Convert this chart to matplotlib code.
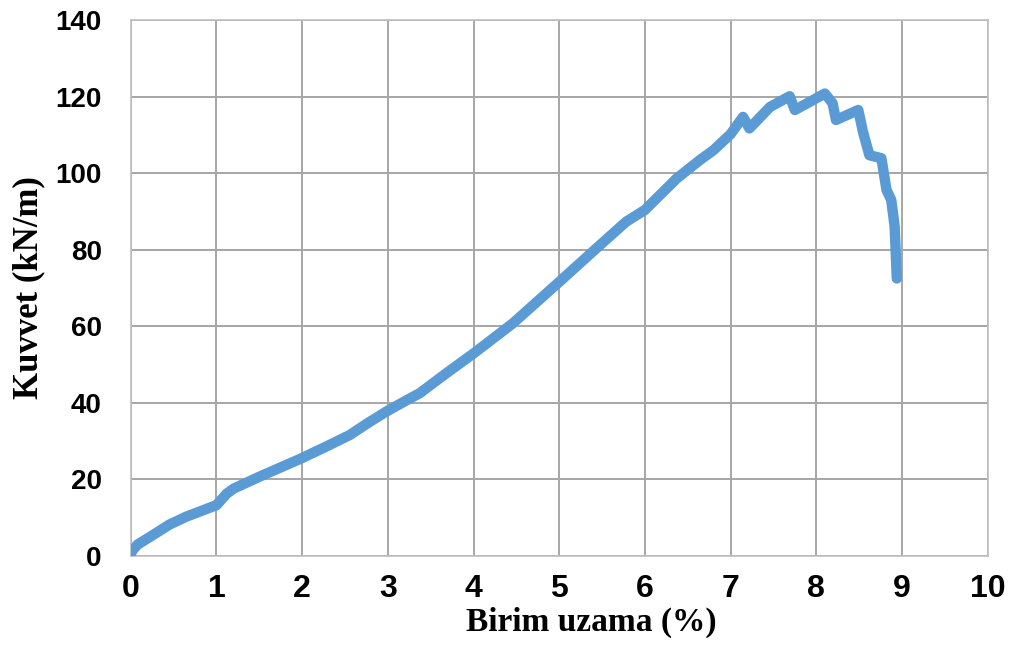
import matplotlib
matplotlib.use("Agg")
import matplotlib.pyplot as plt

# Datos
uzama = [0.0, 0.02, 0.08, 0.26, 0.45, 0.65, 0.85, 1.0, 1.06, 1.12, 1.2, 1.5, 1.99, 2.3,
         2.555, 2.75, 2.98, 3.22, 3.37, 3.68, 4.0, 4.46, 5.0, 5.47, 5.78, 6.0, 6.37,
         6.64, 6.8, 7.0, 7.145, 7.22, 7.46, 7.69, 7.75, 8.10, 8.19, 8.23, 8.49, 8.545,
         8.62, 8.76, 8.82, 8.875, 8.915, 8.94]
kuvvet = [0.5, 1.5, 3.0, 5.5, 8.2, 10.3, 12.0, 13.3, 14.8, 16.3, 17.6, 20.7, 25.5, 28.8,
          31.6, 34.5, 37.7, 40.7, 42.5, 47.7, 52.9, 60.8, 71.6, 81.1, 87.3, 90.4, 98.6,
          103.4, 106.0, 110.2, 114.7, 111.7, 117.3, 120.1, 116.5, 120.8, 118.3, 113.9,
          116.5, 110.8, 104.7, 103.9, 95.6, 93.0, 86.0, 72.5]
x_ticks = list(range(0, 11))
y_ticks = list(range(0, 141, 20))

fig = plt.figure(figsize=(10.14, 6.49), dpi=100)
ax = fig.add_axes([0.129, 0.1433, 0.845, 0.8258])

ax.plot(uzama, kuvvet, color="#5b9bd5", lw=7.5, solid_capstyle="round",
        solid_joinstyle="round", zorder=3)

ax.set_xlim(0, 10)
ax.set_ylim(0, 140)
ax.set_xticks(x_ticks)
ax.set_yticks(y_ticks)
ax.grid(True, color="#a6a6a6", lw=1.4)
for s in ax.spines.values():
    s.set_color("#bfbfbf")
    s.set_linewidth(1.2)
ax.tick_params(axis="x", length=0, pad=13)
ax.tick_params(axis="y", length=0, pad=21)
for lab in ax.get_xticklabels():
    lab.set_fontfamily("Liberation Sans")
    lab.set_fontweight("bold")
    lab.set_fontsize(23)
for lab in ax.get_yticklabels():
    lab.set_fontfamily("Liberation Sans")
    lab.set_fontweight("bold")
    lab.set_fontsize(20)

ax.set_xlabel("Birim uzama (%)", family="Liberation Serif", weight="bold", fontsize=24)
ax.xaxis.set_label_coords(0.537, -0.095)
ax.set_ylabel("Kuvvet (kN/m)", family="Liberation Serif", weight="bold", fontsize=25)
ax.yaxis.set_label_coords(-0.100, 0.5)

fig.savefig("out.png", dpi=100)
